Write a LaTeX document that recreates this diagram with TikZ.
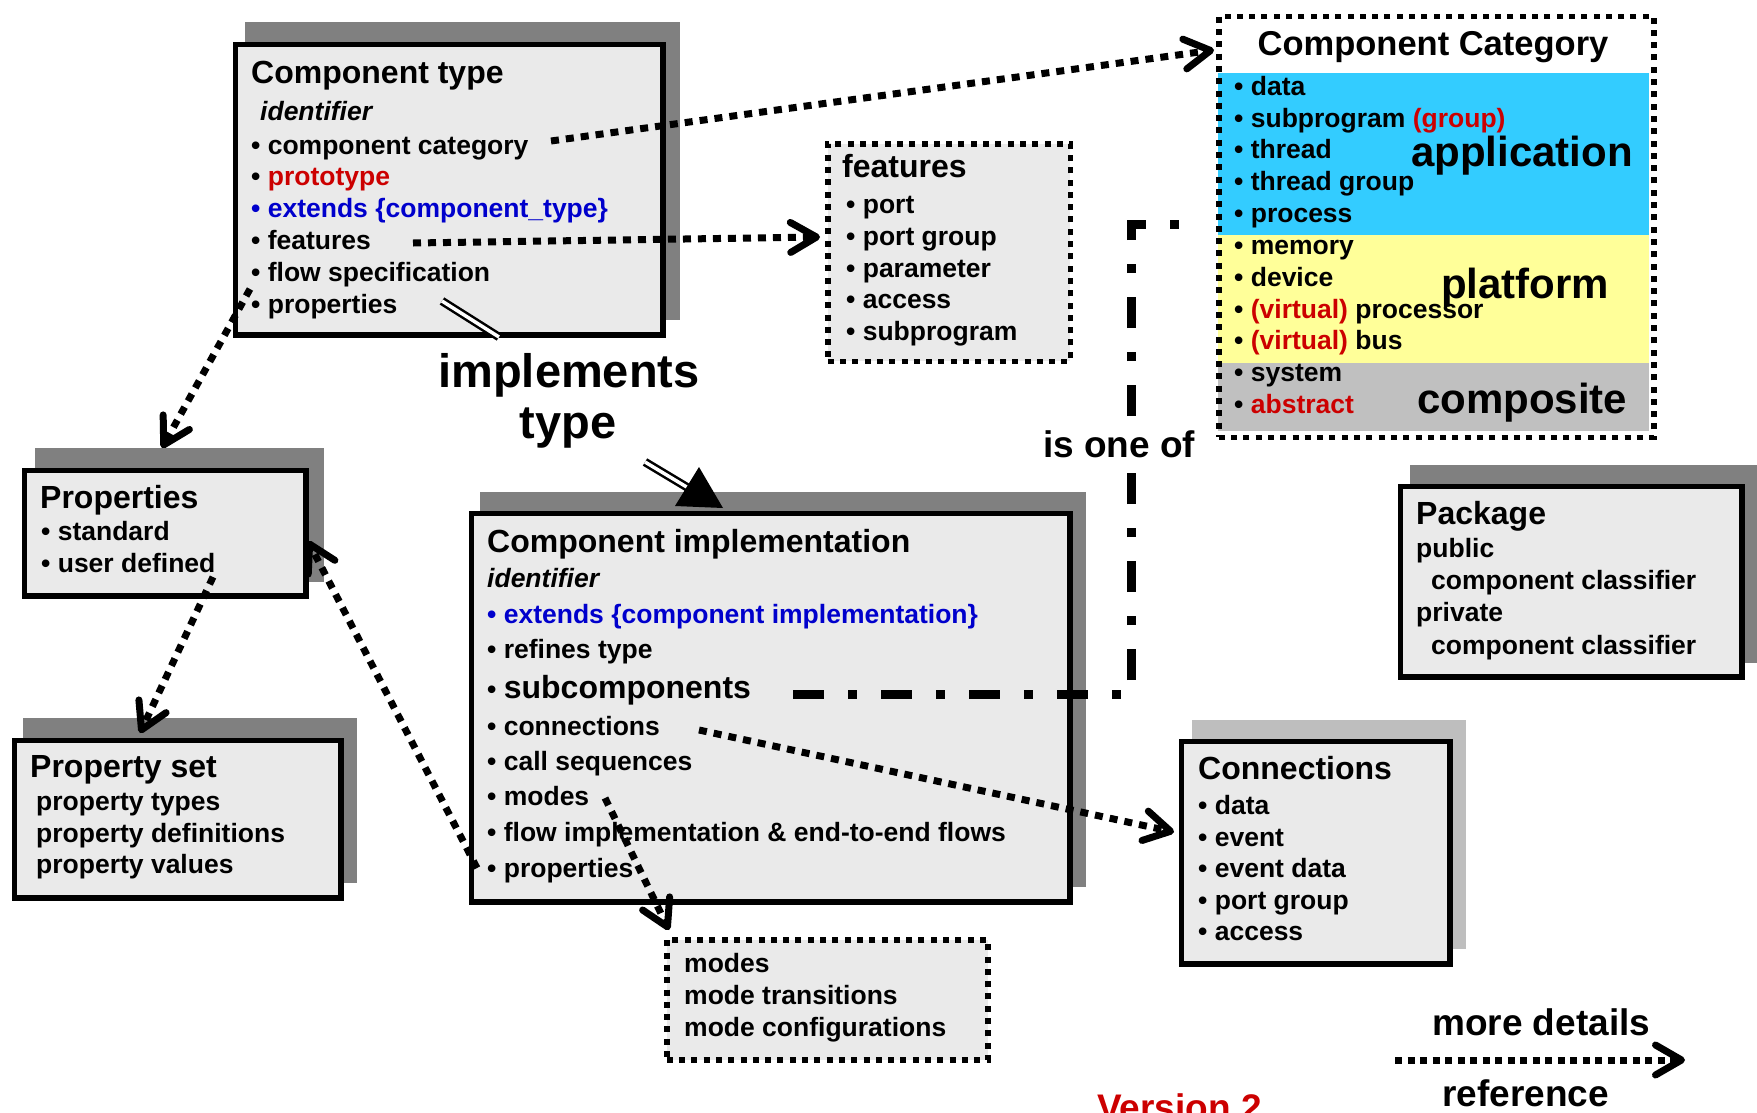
\documentclass[tikz,border=0pt]{standalone}
\usepackage{fontspec}
\setmainfont{Liberation Sans}
\usetikzlibrary{arrows.meta}
\definecolor{boxfill}{HTML}{EAEAEA}
\definecolor{shadowdk}{HTML}{808080}
\definecolor{shadowlt}{HTML}{BEBEBE}
\definecolor{appblue}{HTML}{33CCFF}
\definecolor{platyellow}{HTML}{FFFF99}
\definecolor{compgray}{HTML}{C0C0C0}
\definecolor{txtred}{HTML}{CC0000}
\definecolor{txtblue}{HTML}{0000CC}
\begin{document}
\begin{tikzpicture}[x=1pt,y=-1pt,
  solidbox/.style={draw=black, line width=5.5pt, fill=boxfill, rectangle, inner sep=0pt, anchor=north west},
  dotbox/.style={draw=black, line width=5.5pt, dash pattern=on 6pt off 6.3pt, rectangle, inner sep=0pt, anchor=north west},
  shade/.style={fill=shadowdk},
  itm/.style={anchor=base west, inner sep=0pt, font=\fontsize{26.5}{30}\selectfont\bfseries},
  itmi/.style={anchor=base west, inner sep=0pt, font=\fontsize{26.5}{30}\selectfont\bfseries\itshape},
  ttl/.style={anchor=base west, inner sep=0pt, font=\fontsize{32}{38}\selectfont\bfseries},
  hugelbl/.style={anchor=base west, inner sep=0pt, font=\fontsize{42}{50}\selectfont\bfseries},
  lbl/.style={anchor=base west, inner sep=0pt, font=\fontsize{37}{44}\selectfont\bfseries},
  implbl/.style={anchor=base, inner sep=0pt, font=\fontsize{47}{56}\selectfont\bfseries},
  conn/.style={line width=7pt, dash pattern=on 8pt off 7pt, -{Straight Barb[length=26pt,width=30pt,round]}},
  dashdot/.style={line width=9pt, dash pattern=on 31pt off 24pt on 9pt off 24pt},
  dbl/.style={line width=2.5pt, double=white, double distance=3.5pt},
]
\useasboundingbox (0,0) rectangle (1757,1112);
\clip (0,0) rectangle (1757,1112);

% ---------- shadows ----------
\fill[shade] (245,22) rectangle (680,320);
\fill[shade] (35,448) rectangle (324,582);
\fill[shade] (23,718) rectangle (357,883);
\fill[shade] (480,492) rectangle (1086,887);
\fill[shade] (1410,465) rectangle (1757,663);
\fill[shadowlt] (1192,720) rectangle (1466,949);

% ---------- boxes ----------
\node[solidbox, minimum width=427.5pt, minimum height=290.5pt] (ctype) at (232.75,41.75) {};
\node[solidbox, minimum width=281.5pt, minimum height=125.5pt] (props) at (21.75,467.75) {};
\node[solidbox, minimum width=326.5pt, minimum height=157.5pt] (propset) at (11.75,737.75) {};
\node[solidbox, minimum width=598.5pt, minimum height=388.5pt] (impl) at (468.75,510.75) {};
\node[solidbox, minimum width=341.5pt, minimum height=190.5pt] (pkg) at (1397.5,483.5) {};
\node[solidbox, minimum width=268.5pt, minimum height=222.5pt] (conns) at (1178.5,738.5) {};

\node[dotbox, fill=boxfill, minimum width=242.5pt, minimum height=217.5pt] (feat) at (825,141) {};
\node[dotbox, fill=boxfill, minimum width=321pt, minimum height=120pt] (modes) at (664,937) {};

% category bands
\fill[appblue] (1218,73) rectangle (1649,235);
\fill[platyellow] (1218,235) rectangle (1649,363);
\fill[compgray] (1218,363) rectangle (1649,431);
\node[dotbox, minimum width=435pt, minimum height=421pt] (cat) at (1216,13.5) {};

% ---------- Component type ----------
\node[ttl] (ct0) at (251,83) {Component type};
\node[itmi] (ct1) at (260,120) {identifier};
\node[itm] (ct2) at (251,154) {• component category};
\node[itm] (ct3) at (251,185) {• \textcolor{txtred}{prototype}};
\node[itm, text=txtblue] (ct4) at (251,217) {• extends \{component\_type\}};
\node[itm] (ct5) at (251,249) {• features};
\node[itm] (ct6) at (251,281) {• flow specification};
\node[itm] (ct7) at (251,313) {• properties};

% ---------- Component Category ----------
\node[anchor=base, inner sep=0pt, font=\fontsize{34.5}{40}\selectfont\bfseries] (cat0) at (1433,55) {Component Category};
\node[hugelbl] (catA) at (1411,166) {application};
\node[hugelbl] (catP) at (1441,298) {platform};
\node[hugelbl] (catC) at (1417,413) {composite};
\node[itm] (cc1) at (1234,95) {• data};
\node[itm] (cc2) at (1234,127) {• subprogram \textcolor{txtred}{(group)}};
\node[itm] (cc3) at (1234,158) {• thread};
\node[itm] (cc4) at (1234,190) {• thread group};
\node[itm] (cc5) at (1234,222) {• process};
\node[itm] (cc6) at (1234,254) {• memory};
\node[itm] (cc7) at (1234,286) {• device};
\node[itm] (cc8) at (1234,318) {• \textcolor{txtred}{(virtual)} processor};
\node[itm] (cc9) at (1234,349) {• \textcolor{txtred}{(virtual)} bus};
\node[itm] (cc10) at (1234,381) {• system};
\node[itm] (cc11) at (1234,413) {• \textcolor{txtred}{abstract}};

% ---------- features ----------
\node[ttl] (f0) at (842,177) {features};
\node[itm] (f1) at (846,213) {• port};
\node[itm] (f2) at (846,245) {• port group};
\node[itm] (f3) at (846,277) {• parameter};
\node[itm] (f4) at (846,308) {• access};
\node[itm] (f5) at (846,340) {• subprogram};

% ---------- Properties ----------
\node[ttl] (p0) at (40,508) {Properties};
\node[itm] (p1) at (41,540) {• standard};
\node[itm] (p2) at (41,572) {• user defined};

% ---------- Property set ----------
\node[ttl] (ps0) at (30,777) {Property set};
\node[itm] (ps1) at (36,810) {property types};
\node[itm] (ps2) at (36,842) {property definitions};
\node[itm] (ps3) at (36,873) {property values};

% ---------- Component implementation ----------
\node[ttl] (ci0) at (487,552) {Component implementation};
\node[itmi] (ci1) at (487,587) {identifier};
\node[itm, text=txtblue] (ci2) at (487,623) {• extends \{component implementation\}};
\node[itm] (ci3) at (487,658) {• refines type};
\node[itm] (ci4) at (487,698) {• {\fontsize{32}{38}\selectfont subcomponents}};
\node[itm] (ci5) at (487,735) {• connections};
\node[itm] (ci6) at (487,770) {• call sequences};
\node[itm] (ci7) at (487,805) {• modes};
\node[itm] (ci8) at (487,841) {• flow implementation \& end-to-end flows};
\node[itm] (ci9) at (487,877) {• properties};

% ---------- Package ----------
\node[ttl] (pk0) at (1416,524) {Package};
\node[itm] (pk1) at (1416,557) {public};
\node[itm] (pk2) at (1431,589) {component classifier};
\node[itm] (pk3) at (1416,621) {private};
\node[itm] (pk4) at (1431,654) {component classifier};

% ---------- Connections ----------
\node[ttl] (cn0) at (1198,779) {Connections};
\node[itm] (cn1) at (1198,814) {• data};
\node[itm] (cn2) at (1198,846) {• event};
\node[itm] (cn3) at (1198,877) {• event data};
\node[itm] (cn4) at (1198,909) {• port group};
\node[itm] (cn5) at (1198,940) {• access};

% ---------- modes ----------
\node[itm] (m1) at (684,972) {modes};
\node[itm] (m2) at (684,1004) {mode transitions};
\node[itm] (m3) at (684,1036) {mode configurations};

% ---------- labels ----------
\node[implbl] (imp1) at (569,387) {implements};
\node[implbl] (imp2) at (568,438) {type};
\node[lbl] (more) at (1432,1035) {more details};
\node[lbl] (refr) at (1442,1106) {reference};
\node[lbl, text=txtred] (ver) at (1097,1120) {Version 2};

% ---------- connectors ----------
\coordinate (a1s) at (551,141);  \coordinate (a1e) at (1214,50);
\coordinate (a2s) at (413,243);  \coordinate (a2e) at (820,237);
\coordinate (a3s) at (250,289);  \coordinate (a3e) at (162,448);
\coordinate (a4s) at (213,577);  \coordinate (a4e) at (140,733);
\coordinate (a5s) at (477,868);  \coordinate (a5e) at (308,541);
\coordinate (a6s) at (699,730);  \coordinate (a6e) at (1174,832);
\coordinate (a7s) at (605,798);  \coordinate (a7e) at (669,930);
\draw[conn] (a1s) -- (a1e);
\draw[conn] (a2s) -- (a2e);
\draw[conn] (a3s) -- (a3e);
\draw[conn] (a4s) -- (a4e);
\draw[conn] (a5s) -- (a5e);
\draw[conn] (a6s) -- (a6e);
\draw[conn] (a7s) -- (a7e);

% subcomponents is one of category
\coordinate (sc0) at (793,694); \coordinate (sc1) at (1131,694);
\coordinate (sc2) at (1131,224); \coordinate (sc3) at (1200,224);
\draw[dashdot] (sc0) -- (sc1) -- (sc2) -- (sc3);
\node[lbl, fill=white, inner xsep=3pt, inner ysep=10pt] (isone) at (1040,457) {is one of};

% implements type arrow
\coordinate (it0) at (442,301); \coordinate (it1) at (499,337);
\coordinate (it2) at (645,462); \coordinate (it3) at (690,489);
\coordinate (ith) at (723,508); \coordinate (itb1) at (675,506); \coordinate (itb2) at (699,467);
\draw[dbl] (it0) -- (it1);
\draw[dbl] (it2) -- (it3);
\fill[black] (ith) -- (itb1) -- (itb2) -- cycle;

% legend arrow
\coordinate (lg0) at (1395,1060); \coordinate (lg1) at (1685,1060);
\draw[conn, dash pattern=on 7pt off 5.5pt] (lg0) -- (lg1);
\end{tikzpicture}
\end{document}
